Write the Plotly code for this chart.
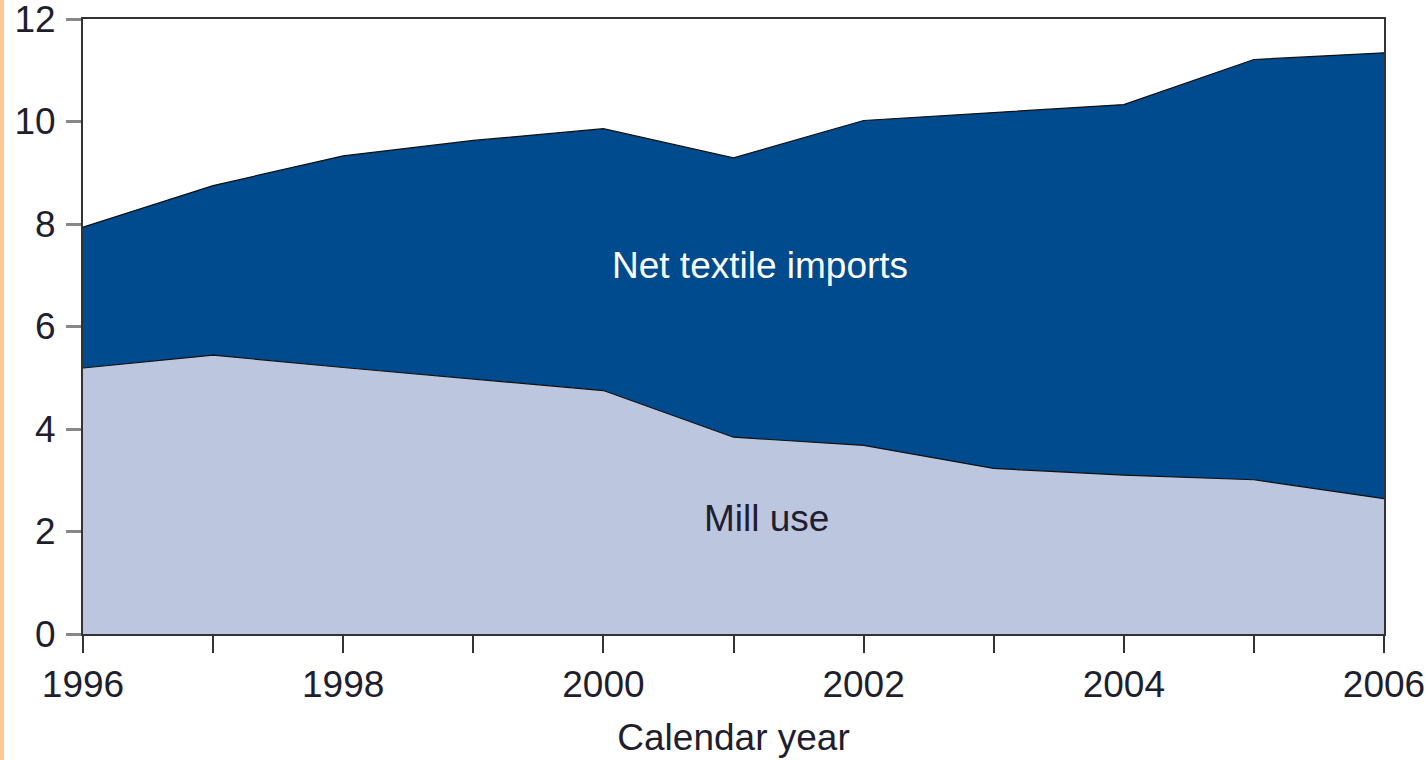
import plotly.graph_objects as go

years = [1996, 1997, 1998, 1999, 2000, 2001, 2002, 2003, 2004, 2005, 2006]
mill_use = [5.19, 5.44, 5.20, 4.98, 4.75, 3.84, 3.68, 3.23, 3.10, 3.01, 2.64]
total_use = [7.94, 8.75, 9.33, 9.63, 9.86, 9.29, 10.02, 10.18, 10.33, 11.21, 11.34]
net_imports = [round(t - m, 2) for t, m in zip(total_use, mill_use)]

x_tick_vals = years
x_tick_text = ["1996", "", "1998", "", "2000", "", "2002", "", "2004", "", "2006"]
y_tick_vals = [0, 2, 4, 6, 8, 10, 12]

W, H = 1427, 760
ML, MR, MT, MB = 83, 43, 19, 126
FONT = "Liberation Sans, Arial, sans-serif"
FS = 37
TXT = "#1E1E2E"

fig = go.Figure()
fig.add_trace(go.Scatter(
    x=years, y=mill_use, mode="lines", stackgroup="one",
    line=dict(color="#111111", width=1.2), fillcolor="#BDC6DF",
    name="Mill use", hoverinfo="x+y"))
fig.add_trace(go.Scatter(
    x=years, y=net_imports, mode="lines", stackgroup="one",
    line=dict(color="#111111", width=1.2), fillcolor="#004A8E",
    name="Net textile imports", hoverinfo="x+y"))

pw = W - ML - MR
ph = H - MT - MB
fig.add_shape(type="rect", xref="paper", yref="paper",
              x0=(0 - ML) / pw, x1=(4 - ML) / pw,
              y0=-(MB) / ph, y1=(ph + MT) / ph,
              fillcolor="#FFC893", line=dict(width=0), layer="below")

fig.add_annotation(x=2001.2, y=7.2, text="Net textile imports", showarrow=False,
                   font=dict(family=FONT, size=FS, color="#FFFFFF"))
fig.add_annotation(x=2001.25, y=2.25, text="Mill use", showarrow=False,
                   font=dict(family=FONT, size=FS, color=TXT))

fig.update_layout(
    width=W, height=H,
    margin=dict(l=ML, r=MR, t=MT, b=MB, pad=0, autoexpand=False),
    paper_bgcolor="white", plot_bgcolor="white",
    showlegend=False,
    font=dict(family=FONT, size=FS, color=TXT),
)
fig.update_xaxes(
    range=[1996, 2006], tickmode="array", tickvals=x_tick_vals, ticktext=x_tick_text,
    ticks="outside", ticklen=17, tickwidth=2, tickcolor="#333333",
    showline=True, linecolor="#333333", linewidth=2, mirror=True,
    showgrid=False, zeroline=False, ticklabeloverflow="allow", automargin=False,
    tickfont=dict(family=FONT, size=FS, color=TXT),
    title=dict(text="Calendar year", font=dict(family=FONT, size=FS, color=TXT), standoff=20),
)
fig.update_yaxes(
    range=[0, 12], tickmode="array", tickvals=y_tick_vals,
    ticks="outside", ticklen=15, tickwidth=3, tickcolor="#888888",
    showline=True, linecolor="#333333", linewidth=2, mirror=True,
    showgrid=False, zeroline=False, ticklabeloverflow="allow", automargin=False,
    ticklabelstandoff=3,
    tickfont=dict(family=FONT, size=FS, color=TXT),
)

fig.write_html(
    "out.html",
    config={"displayModeBar": False},
    post_script="document.body.style.margin='0';document.documentElement.style.overflow='hidden';",
)
